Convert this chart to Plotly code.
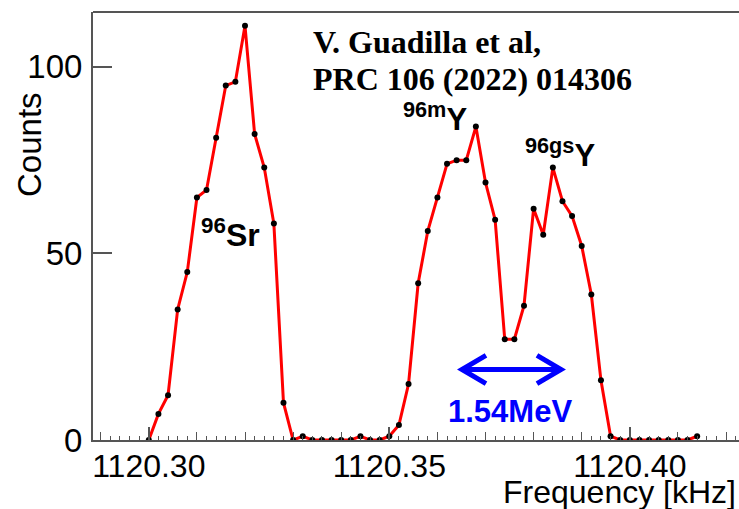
import plotly.graph_objects as go

# ---- data ----
frequency_khz = [
    1120.300, 1120.302, 1120.304, 1120.306, 1120.308, 1120.310, 1120.312, 1120.314,
    1120.316, 1120.318, 1120.320, 1120.322, 1120.324, 1120.326, 1120.328, 1120.330,
    1120.332, 1120.334, 1120.336, 1120.338, 1120.340, 1120.342, 1120.344, 1120.346,
    1120.348, 1120.350, 1120.352, 1120.354, 1120.356, 1120.358, 1120.360, 1120.362,
    1120.364, 1120.366, 1120.368, 1120.370, 1120.372, 1120.374, 1120.376, 1120.378,
    1120.380, 1120.382, 1120.384, 1120.386, 1120.388, 1120.390, 1120.392, 1120.394,
    1120.396, 1120.398, 1120.400, 1120.402, 1120.404, 1120.406, 1120.408, 1120.410,
    1120.412, 1120.414,
]
counts = [
    0, 7, 12, 35, 45, 65, 67, 81,
    95, 96, 111, 82, 73, 58, 10, 0,
    1, 0, 0, 0, 0, 0, 1, 0,
    0, 1, 4, 15, 42, 56, 65, 74,
    75, 75, 84, 69, 59, 27, 27, 36,
    62, 55, 73, 64, 60, 52, 39, 16,
    1, 0, 0, 0, 0, 0, 0, 0,
    0, 1,
]
x_major_ticks = [1120.30, 1120.35, 1120.40]
x_medium_ticks = [1120.29, 1120.30, 1120.31, 1120.32, 1120.33, 1120.34, 1120.35,
                  1120.36, 1120.37, 1120.38, 1120.39, 1120.40, 1120.41, 1120.42]
y_ticks = [0, 50, 100]

X_RANGE = [1120.2884, 1120.4227]
Y_RANGE = [0, 114.7]

W, H = 739, 509
ML, MR, MT, MB = 93, 0, 12, 69
PW, PH = W - ML - MR, H - MT - MB


def px(xp):
    return (xp - ML) / PW


def py(yp):
    return (H - MB - yp) / PH


SANS = "Liberation Sans, Arial, Helvetica, sans-serif"
SERIF = "Liberation Serif, Times New Roman, serif"

fig = go.Figure()
fig.add_trace(go.Scatter(
    x=frequency_khz, y=counts, mode="lines+markers",
    line=dict(color="#ff0000", width=3),
    marker=dict(color="black", size=6),
    showlegend=False, hoverinfo="skip",
))
# invisible trace for the overlay axis carrying the medium ticks
fig.add_trace(go.Scatter(x=[X_RANGE[0]], y=[0], xaxis="x2", mode="markers",
                         marker=dict(opacity=0), showlegend=False, hoverinfo="skip"))

axis_col = "#555555"
fig.update_layout(
    width=W, height=H,
    margin=dict(l=ML, r=MR, t=MT, b=MB, pad=0),
    paper_bgcolor="white", plot_bgcolor="white",
    font=dict(family=SANS, color="black"),
    xaxis=dict(
        range=X_RANGE, showgrid=False, zeroline=False,
        showline=True, linecolor=axis_col, linewidth=2,
        tickmode="array", tickvals=x_major_ticks, tickformat=".2f",
        ticks="inside", ticklen=13, tickwidth=1.5, tickcolor=axis_col,
        tickfont=dict(size=32, family=SANS, color="black"),
        ticklabelstandoff=-3,
        minor=dict(dtick=0.002, tick0=1120.30, ticks="inside", ticklen=4,
                   tickwidth=1.2, tickcolor=axis_col, showgrid=False),
    ),
    xaxis2=dict(
        range=X_RANGE, overlaying="x", anchor="y", side="bottom",
        showgrid=False, zeroline=False, showline=False,
        tickmode="array", tickvals=x_medium_ticks, showticklabels=False,
        ticks="inside", ticklen=8, tickwidth=1.2, tickcolor=axis_col,
    ),
    yaxis=dict(
        range=Y_RANGE, showgrid=False, zeroline=False,
        showline=True, linecolor=axis_col, linewidth=2,
        tickmode="array", tickvals=y_ticks,
        ticks="inside", ticklen=19, tickwidth=1.5, tickcolor=axis_col,
        tickfont=dict(size=33, family=SANS, color="black"),
        ticklabelstandoff=2,
    ),
)

# top frame line
fig.add_shape(type="line", xref="paper", yref="paper", x0=0, x1=1, y0=1, y1=1,
              line=dict(color=axis_col, width=2))

# double-headed arrow (data coordinates)
xl, xr, ya = 1120.3651, 1120.3857, 18.9
dx, dy = 0.0050, 3.8
path = (f"M {xl+dx},{ya+dy} L {xl},{ya} L {xl+dx},{ya-dy} "
        f"M {xl},{ya} L {xr},{ya} "
        f"M {xr-dx},{ya+dy} L {xr},{ya} L {xr-dx},{ya-dy}")
fig.add_shape(type="path", xref="x", yref="y", path=path,
              line=dict(color="#0000ff", width=5))

ann = []
# axis titles
ann.append(dict(text="Frequency [kHz]", xref="paper", yref="paper",
                x=px(738), y=py(492), xanchor="right", yanchor="middle",
                showarrow=False, font=dict(size=32, family=SANS, color="black")))
ann.append(dict(text="Counts", xref="paper", yref="paper",
                x=px(30), y=py(145), xanchor="center", yanchor="middle",
                textangle=-90, showarrow=False,
                font=dict(size=33, family=SANS, color="black")))
# citation
ann.append(dict(text="<b>V. Guadilla et al,</b>", xref="paper", yref="paper",
                x=px(311), y=py(42), xanchor="left", yanchor="middle",
                showarrow=False, font=dict(size=32, family=SERIF, color="black")))
ann.append(dict(text="<b>PRC 106 (2022) 014306</b>", xref="paper", yref="paper",
                x=px(311), y=py(79), xanchor="left", yanchor="middle",
                showarrow=False, font=dict(size=32, family=SERIF, color="black")))
# peak labels
ann.append(dict(text="<b><sup>96</sup>Sr</b>", xref="paper", yref="paper",
                x=px(199), y=py(233), xanchor="left", yanchor="middle",
                showarrow=False, font=dict(size=32, family=SANS, color="black")))
ann.append(dict(text="<b><sup>96m</sup>Y</b>", xref="paper", yref="paper",
                x=px(401), y=py(117), xanchor="left", yanchor="middle",
                showarrow=False, font=dict(size=31, family=SANS, color="black")))
ann.append(dict(text="<b><sup>96gs</sup>Y</b>", xref="paper", yref="paper",
                x=px(523), y=py(153), xanchor="left", yanchor="middle",
                showarrow=False, font=dict(size=31, family=SANS, color="black")))
ann.append(dict(text="<b>1.54MeV</b>", xref="paper", yref="paper",
                x=px(510), y=py(411), xanchor="center", yanchor="middle",
                showarrow=False, font=dict(size=31, family=SANS, color="#0000ff")))
fig.update_layout(annotations=ann)

fig.write_html("out.html")
